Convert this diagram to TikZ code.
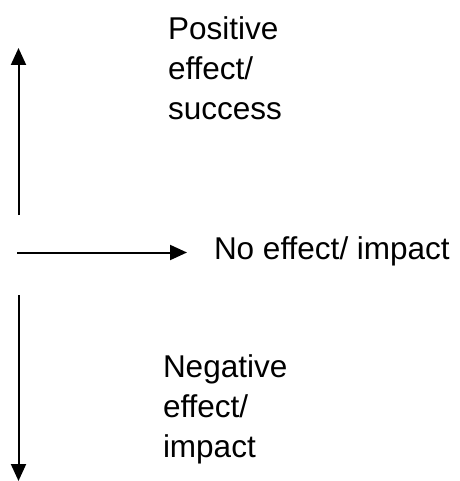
\documentclass[tikz,border=0pt]{standalone}
\usepackage{fontspec}
\setmainfont{Liberation Sans}
\usetikzlibrary{arrows.meta}
\usetikzlibrary{positioning}

\begin{document}
\begin{tikzpicture}[
	x=1pt, y=-1pt,
  > = {Triangle[length=17pt,width=15pt]},
  every node/.style = {inner sep=0pt, outer sep=0pt},
  effect text/.style = {align=left, font=\fontsize{31.5}{40}\selectfont},
  effect arrow/.style = {->, line width=2pt}
  ]
	\useasboundingbox (0,0) rectangle (459,481);

	\coordinate (@up0) at (18.5,215);
	\coordinate (@up1) at (18.5,48);
	\coordinate (@mid0) at (17,252.5);
	\coordinate (@mid1) at (187,252.5);
	\coordinate (@down0) at (18.5,295);
	\coordinate (@down1) at (18.5,481);

	\node[effect text,anchor=north west] (positive) at (168,17) {Positive\\effect/\\success};
	\node[effect text,anchor=base west] (noeffect) at (214,259) {No effect/ impact};
	\node[effect text,anchor=north west] (negative) at (163,355) {Negative\\effect/\\impact};

	\draw[effect arrow] (@up0) -- (@up1);
	\draw[effect arrow] (@mid0) -- (@mid1);
	\draw[effect arrow] (@down0) -- (@down1);

\end{tikzpicture}
\end{document}
